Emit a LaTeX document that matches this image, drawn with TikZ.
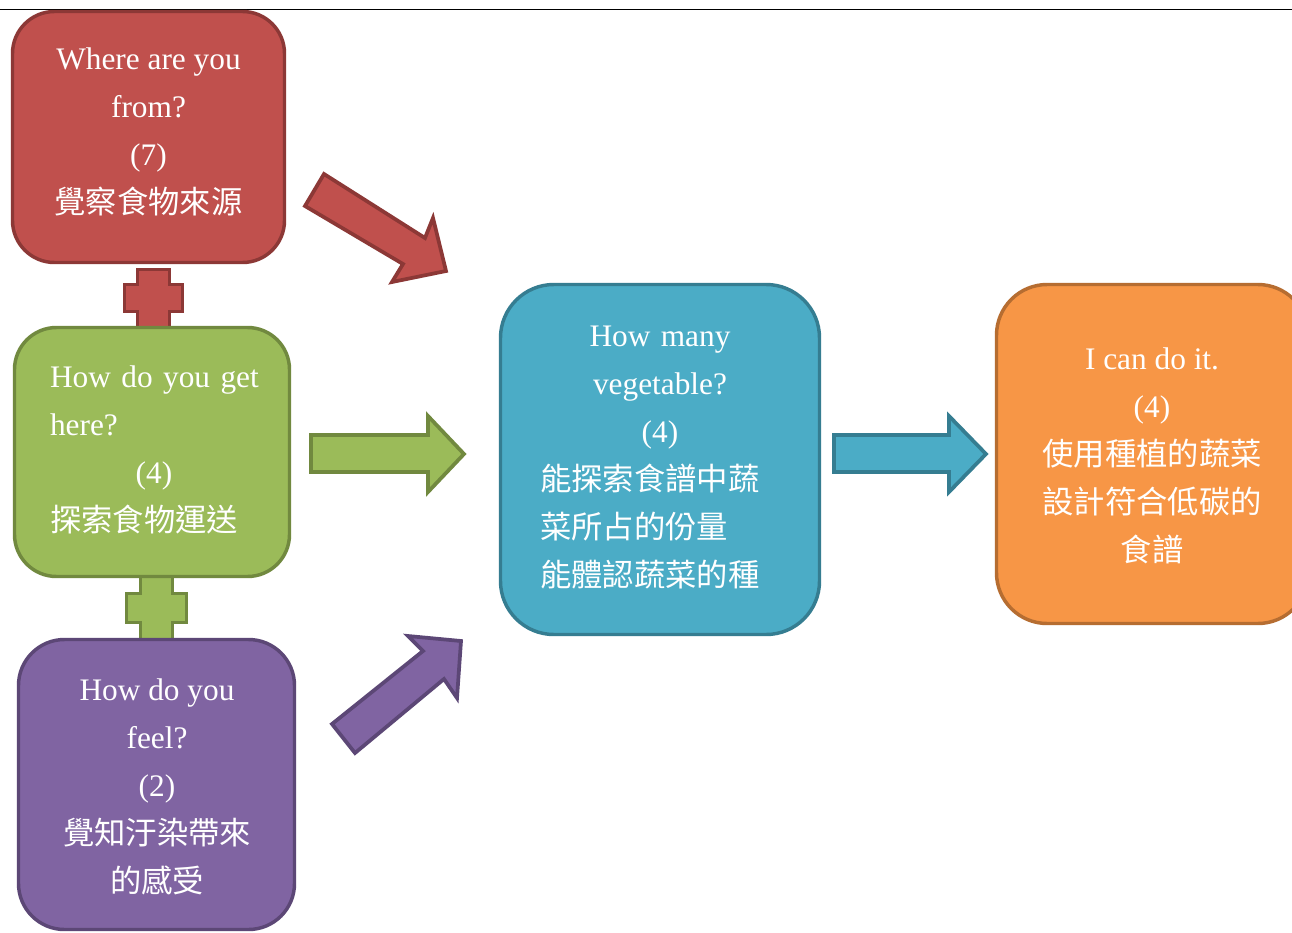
\documentclass[tikz,border=0pt]{standalone}
\usepackage{fontspec}
\setmainfont{Liberation Serif}
\newfontfamily\cjk{Noto Sans CJK TC}
\definecolor{redF}{HTML}{C0504D}\definecolor{redD}{HTML}{8C3836}
\definecolor{grnF}{HTML}{9BBB59}\definecolor{grnD}{HTML}{71893F}
\definecolor{purF}{HTML}{8064A2}\definecolor{purD}{HTML}{5C4776}
\definecolor{bluF}{HTML}{4BACC6}\definecolor{bluD}{HTML}{357D91}
\definecolor{orgF}{HTML}{F79646}\definecolor{orgD}{HTML}{B66D31}
\tikzset{
  boxst/.style={draw, line width=2.6pt, inner sep=0pt},
  txt/.style={text=white, font=\fontsize{23.5}{36}\selectfont, inner sep=0pt, align=center},
  blockst/.style={line width=2.8pt, line join=miter},
}
\begin{document}
\begin{tikzpicture}[x=0.75pt,y=-0.75pt]
\useasboundingbox (0,0) rectangle (1292,932);
\clip (0,0) rectangle (1292,932);
\fill[white] (0,0) rectangle (1292,932);
\draw[line width=0.75pt] (0,9) -- (1292,9);

% crosses
\draw[blockst, fill=redF, draw=redD] (137.5,269.5) -- (169.5,269.5) -- (169.5,284.5) -- (182.5,284.5) -- (182.5,311.5) -- (169.5,311.5) -- (169.5,328) -- (137.5,328) -- (137.5,311.5) -- (124.5,311.5) -- (124.5,284.5) -- (137.5,284.5) -- cycle;
\draw[blockst, fill=grnF, draw=grnD] (140.5,574) -- (172.5,574) -- (172.5,593.5) -- (186.5,593.5) -- (186.5,622.5) -- (172.5,622.5) -- (172.5,640) -- (140.5,640) -- (140.5,622.5) -- (126.5,622.5) -- (126.5,593.5) -- (140.5,593.5) -- cycle;

% boxes
\node[boxst, fill=redF, draw=redD, rounded corners=31.5pt, minimum width={272*0.75pt}, minimum height={251*0.75pt}] (red) at (148.5,137) {};
\node[boxst, fill=grnF, draw=grnD, rounded corners=31.5pt, minimum width={275*0.75pt}, minimum height={249*0.75pt}] (grn) at (152,452) {};
\node[boxst, fill=purF, draw=purD, rounded corners=34.5pt, minimum width={276*0.75pt}, minimum height={290*0.75pt}] (pur) at (156.5,784.5) {};
\node[boxst, fill=bluF, draw=bluD, rounded corners=40pt, minimum width={319*0.75pt}, minimum height={350*0.75pt}] (blu) at (660,459.5) {};
\node[boxst, fill=orgF, draw=orgD, rounded corners=38pt, minimum width={312*0.75pt}, minimum height={339*0.75pt}] (org) at (1152.5,454) {};

% texts
\node[txt] (redt) at (148.5,131.5) {Where are you\\from?\\(7)\\{\cjk 覺察食物來源}};
\node[txt, align=left, text width={208*0.75pt}] (grnt) at (154,449.5) {\makebox[\linewidth][s]{How do you get}\\here?\\\makebox[\linewidth][c]{(4)}\\{\cjk 探索食物運送}};
\node[txt] (purt) at (157,787) {How do you\\feel?\\(2)\\{\cjk 覺知汙染帶來}\\{\cjk 的感受}};
\node[txt, align=left, text width={240*0.75pt}] (blut) at (660,457.5) {\makebox[\linewidth][c]{How many}\\\makebox[\linewidth][c]{vegetable?}\\\makebox[\linewidth][c]{(4)}\\{\cjk 能探索食譜中蔬}\\{\cjk 菜所占的份量}\\{\cjk 能體認蔬菜的種}};
\node[txt] (orgt) at (1152,455.5) {I can do it.\\(4)\\{\cjk 使用種植的蔬菜}\\{\cjk 設計符合低碳的}\\{\cjk 食譜}};

% block arrows
\draw[blockst, fill=redF, draw=redD] (324,174) -- (425,238) -- (433,218) -- (446,271) -- (392,282) -- (403,264) -- (305,206) -- cycle;
\draw[blockst, fill=grnF, draw=grnD] (311,435) -- (428,435) -- (428,416) -- (464,454) -- (428,492) -- (428,472) -- (311,472) -- cycle;
\draw[blockst, fill=purF, draw=purD] (332,724) -- (423,651) -- (408,636) -- (461,641) -- (457,698) -- (444,679) -- (355,753) -- cycle;
\draw[blockst, fill=bluF, draw=bluD] (834,435) -- (949,435) -- (949,416) -- (986,454) -- (949,492) -- (949,472) -- (834,472) -- cycle;
\end{tikzpicture}
\end{document}
